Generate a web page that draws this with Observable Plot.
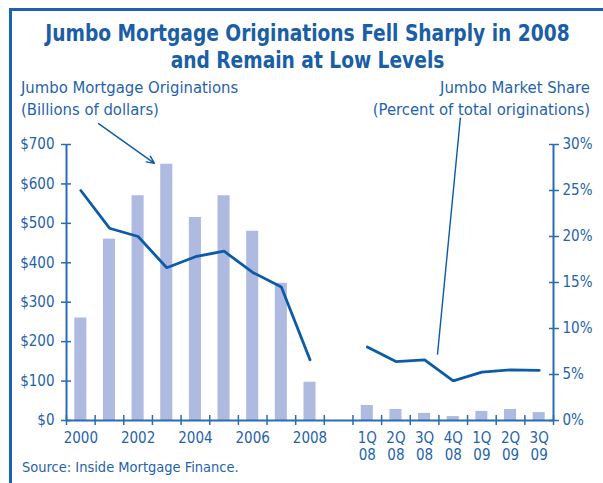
<!DOCTYPE html>
<html>
<head>
<meta charset="utf-8">
<script src="https://cdn.jsdelivr.net/npm/d3@7"></script>
<script src="https://cdn.jsdelivr.net/npm/@observablehq/plot@0.6"></script>
<style>
  html, body { margin: 0; padding: 0; background: #fff; }
  #wrap { position: relative; width: 603px; height: 483px; overflow: hidden;
    font-family: "Liberation Sans Narrow", "DejaVu Sans Condensed", "Roboto", sans-serif; color: #1f63ad; }
  #frame { position: absolute; left: 9px; top: 8px; width: 700px; height: 600px;
    border-left: 3px solid #1a63b0; border-top: 3px solid #1a63b0; }
  .t { position: absolute; white-space: nowrap; }
  #title { left: 6px; width: 603px; top: 20px; text-align: center; font-weight: bold; font-size: 23px; line-height: 27px; color: #1a5ea8;
    transform: scaleX(0.9); transform-origin: 301.5px 0; }
  #lab1 { left: 21px; top: 77px; font-size: 16.5px; line-height: 22px; }
  #lab2 { right: 13px; top: 77px; font-size: 16.5px; line-height: 22px; text-align: right; }
  #src { left: 22px; top: 459px; font-size: 14.5px; }
  #chart { position: absolute; left: 0; top: 100px; }
</style>
</head>
<body>
<div id="wrap">
  <div id="frame"></div>
  <div class="t" id="title">Jumbo Mortgage Originations Fell Sharply in 2008<br>and Remain at Low Levels</div>
  <div class="t" id="lab1">Jumbo Mortgage Originations<br>(Billions of dollars)</div>
  <div class="t" id="lab2">Jumbo Market Share<br>(Percent of total originations)</div>
  <div id="chart"></div>
  <div class="t" id="src">Source: Inside Mortgage Finance.</div>
</div>
<script>
// ---- data ----
const periods = ["2000","2001","2002","2003","2004","2005","2006","2007","2008",
                 "1Q08","2Q08","3Q08","4Q08","1Q09","2Q09","3Q09"];
const originations = [260, 460, 570, 650, 515, 570, 480, 348, 97,
                      38, 28, 18, 10, 23, 28, 20];           // billions of dollars
const marketShare = [25.0, 20.9, 20.0, 16.6, 17.8, 18.4, 16.1, 14.5, 6.6,
                     8.0, 6.4, 6.6, 4.3, 5.25, 5.5, 5.45];   // percent
const xTickLabels = ["2000","","2002","","2004","","2006","","2008",
                     "1Q\n08","2Q\n08","3Q\n08","4Q\n08","1Q\n09","2Q\n09","3Q\n09"];
const leftTicks = [0, 100, 200, 300, 400, 500, 600, 700];
const rightTicks = [0, 5, 10, 15, 20, 25, 30];
// annotation pointers (slot index, $ billions)
const arrowOrig = [{x1: 0.62, y1: 753, x2: 2.57, y2: 652}];
const pointerShare = [{x1: 13.25, y1: 768, x2: 12.45, y2: 167}];

// ---- build ----
const nSlots = 17; // 9 years + gap + 7 quarters
const slotOf = i => (i < 9 ? i : i + 1);
const rows = periods.map((p, i) => ({
  period: p, pos: slotOf(i), value: originations[i], share: marketShare[i],
  seg: i < 9 ? "annual" : "quarterly", label: xTickLabels[i]
}));
const shareToY = s => s * 700 / 30;
const boundaries = d3.range(nSlots + 1).map(k => k - 0.5);

const blue = "#1f63ad";
const axisBlue = "#2a6cb3";

const chart = Plot.plot({
  width: 603, height: 370,
  marginTop: 44, marginBottom: 50, marginLeft: 66, marginRight: 50,
  x: {type: "linear", domain: [-0.5, nSlots - 0.5], axis: null},
  y: {domain: [0, 700], axis: null},
  style: {fontFamily: '"Liberation Sans Narrow", "DejaVu Sans Condensed", Roboto, sans-serif',
          fontSize: "15px", color: blue, background: "transparent", overflow: "visible"},
  marks: [
    Plot.rectY(rows, {x1: d => d.pos - 0.5, x2: d => d.pos + 0.5, y: "value",
      insetLeft: 8.3, insetRight: 8.3, fill: "#aebadf"}),
    Plot.line(rows, {x: "pos", y: d => shareToY(d.share), z: "seg",
      stroke: "#0c5ba7", strokeWidth: 2.8, strokeLinejoin: "miter"}),
    // axis lines
    Plot.ruleY([0], {stroke: axisBlue, strokeWidth: 2}),
    Plot.ruleX([-0.5], {stroke: axisBlue, strokeWidth: 2}),
    Plot.ruleX([nSlots - 0.5], {stroke: axisBlue, strokeWidth: 2}),
    // left axis
    Plot.axisY({anchor: "left", ticks: leftTicks, tickFormat: d => "$" + d,
      tickSize: 10, dx: 5, tickPadding: 7, stroke: axisBlue, strokeWidth: 1.5, fill: blue}),
    // right axis
    Plot.axisY({anchor: "right", ticks: rightTicks.map(shareToY),
      tickFormat: d => Math.round(d * 30 / 700) + "%",
      tickSize: 10, dx: -5, tickPadding: 4, stroke: axisBlue, strokeWidth: 1.5, fill: blue}),
    // x tick marks at slot boundaries
    Plot.axisX({anchor: "bottom", ticks: boundaries, tickFormat: () => "",
      tickSize: 10, dy: -5, stroke: axisBlue, strokeWidth: 1.5}),
    // x labels
    Plot.axisX({anchor: "bottom", ticks: rows.map(d => d.pos),
      tickFormat: (d) => rows.find(r => r.pos === d).label,
      tickSize: 0, tickPadding: 10, lineHeight: 1.15, fill: blue}),
    // annotations
    Plot.arrow(arrowOrig, {x1: "x1", y1: "y1", x2: "x2", y2: "y2",
      stroke: "#0c5ba7", strokeWidth: 1.4, headLength: 9, headAngle: 50}),
    Plot.link(pointerShare, {x1: "x1", y1: "y1", x2: "x2", y2: "y2",
      stroke: "#0c5ba7", strokeWidth: 1.4})
  ]
});
document.getElementById("chart").appendChild(chart);
</script>
</body>
</html>
